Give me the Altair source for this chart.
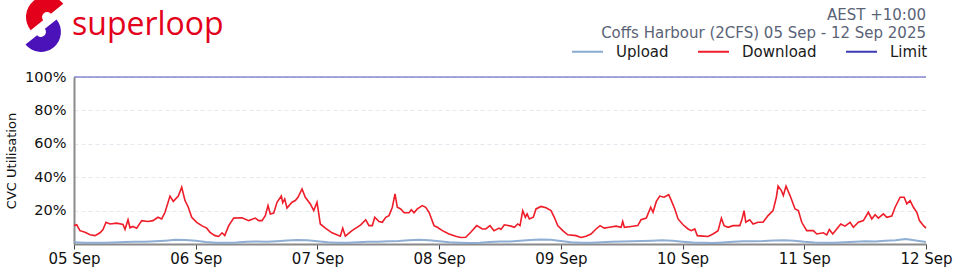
import altair as alt
import pandas as pd

# ---------------- data ----------------
day_labels = ["05 Sep", "06 Sep", "07 Sep", "08 Sep", "09 Sep", "10 Sep", "11 Sep", "12 Sep"]
day_ticks = [0, 24, 48, 72, 96, 120, 144, 168]          # hours since 05 Sep 00:00
y_ticks = [20, 40, 60, 80, 100]

series_names = ["Upload", "Download", "Limit"]
series_colors = ["#89aad2", "#ee1d29", "#3b3bb3"]

brand_name = "superloop"
tz_label = "AEST +10:00"
subtitle = "Coffs Harbour (2CFS) 05 Sep - 12 Sep 2025"
y_title = "CVC Utilisation"

download_hours = [
    0, 0.53, 1.18, 2.17, 3.16, 4.14, 5.13, 5.72, 6.31, 7.10, 8.42, 9.66, 10.06, 10.65, 11.04,
    11.63, 12.36, 13.35, 14.59, 15.58, 16.56, 17.29, 17.95, 18.93, 19.58, 20.57, 21.24, 21.89,
    22.54, 23.21, 24.20, 25.18, 26.17, 26.82, 27.80, 28.53, 29.19, 29.72, 30.51, 31.49, 33.13,
    34.45, 35.75, 36.42, 37.07, 37.72, 38.26, 38.71, 39.38, 40.03, 40.88, 41.16, 41.55, 42.00,
    42.99, 43.64, 44.17, 44.96, 45.61, 46.60, 47.27, 47.92, 48.57, 49.56, 50.88, 52.51, 52.99,
    53.50, 54.82, 55.81, 56.54, 57.52, 58.17, 58.82, 59.30, 60.15, 60.80, 61.47, 62.12, 62.77,
    63.30, 63.75, 64.42, 65.08, 66.06, 66.52, 67.05, 67.70, 68.68, 69.35, 70.01, 70.99, 71.64,
    72.63, 73.95, 75.27, 76.26, 77.24, 78.23, 79.41, 80.52, 81.19, 82.03, 82.82, 83.81, 84.20,
    84.85, 86.18, 86.83, 87.50, 87.95, 88.48, 89.00, 89.33, 89.79, 90.57, 91.10, 92.09, 93.08,
    94.06, 94.71, 95.38, 96.37, 97.36, 98.99, 99.98, 100.97, 101.95, 102.94, 103.73, 104.57,
    105.56, 106.88, 107.87, 108.20, 108.52, 109.84, 111.16, 111.81, 112.85, 113.72, 114.18,
    114.83, 115.50, 116.35, 117.27, 117.79, 118.46, 119.11, 120.10, 121.08, 121.73, 122.40,
    122.91, 124.04, 125.02, 126.01, 127.00, 127.65, 128.18, 128.97, 129.96, 131.28, 131.73,
    132.13, 132.46, 133.25, 133.90, 134.88, 135.87, 136.86, 137.84, 138.49, 138.83, 139.48,
    139.87, 140.40, 141.19, 142.18, 142.83, 143.50, 144.48, 145.79, 146.46, 147.76, 148.43,
    148.94, 149.61, 150.40, 151.19, 152.04, 153.03, 153.68, 154.67, 155.65, 156.64, 157.31,
    157.96, 158.61, 159.60, 160.27, 161.25, 161.91, 162.90, 163.69, 164.22, 164.87, 165.52,
    166.19, 166.71, 167.50, 168,
]
download_values = [
    11, 11.5, 8, 7, 5.5, 5, 6.7, 8.7, 13, 12, 12.5, 11.7, 8.8, 14.5, 9.7,
    10.5, 9.5, 14, 13.5, 14, 16, 15, 19, 28.7, 25.5, 28.7, 34, 26,
    22, 16, 13, 11, 9.5, 7, 5, 4.5, 6.7, 5, 11, 15.5, 15.7,
    14, 15.5, 14, 14, 17, 23, 18, 18.5, 25, 28.7, 24.7, 27, 21.5,
    25, 26, 28, 33, 28, 24, 20, 25, 12, 9.5, 6.7, 4.7, 9.5,
    4.7, 8, 10, 11.5, 14.5, 11, 11, 16, 13.5, 13, 16, 17, 22,
    30, 22, 21, 18.7, 18.7, 20.5, 18.7, 21, 23, 22, 19, 11, 10,
    8, 6, 4.7, 3.9, 4, 7, 11, 9, 9, 11, 8, 9.5, 8.7,
    11.5, 10.7, 10, 12, 11, 20, 16, 18, 15, 16, 21, 22.5, 21.7,
    20, 16, 11, 8, 5.5, 5, 3.9, 4.7, 6, 9, 11, 9.5,
    10, 10.7, 10, 13.5, 10, 10.5, 11, 14.5, 15.5, 22, 19,
    25.5, 28.7, 28, 29.5, 26, 21, 15, 11.5, 9, 8, 9,
    5, 4.7, 4.5, 6, 8, 15.5, 11, 10, 11, 11, 15,
    20, 13, 14.5, 12, 13, 13, 17, 20, 28, 34.7, 32,
    29, 34.7, 29, 21, 20, 13, 8, 8, 6, 6.7, 5.5,
    8.7, 6, 9, 12, 10.7, 13, 10, 13, 14, 19, 15,
    17.5, 15.5, 18, 16, 16.7, 22, 28, 28, 24, 26, 22,
    19, 14, 11, 9.5,
]

upload_hours = list(range(0, 169, 2))
upload_values = [
    1.0, 0.8, 0.7, 0.7, 0.9, 1.2, 1.4, 1.3, 1.6, 2.0, 2.5, 2.4,
    1.9, 1.2, 0.8, 0.7, 0.9, 1.3, 1.5, 1.4, 1.7, 2.1, 2.4, 2.2,
    1.6, 1.0, 0.7, 0.7, 1.0, 1.3, 1.4, 1.6, 1.8, 2.2, 2.6, 2.3,
    1.7, 1.1, 0.8, 0.6, 0.8, 1.2, 1.5, 1.5, 1.9, 2.4, 2.7, 2.5,
    1.8, 1.1, 0.8, 0.7, 1.0, 1.3, 1.5, 1.6, 1.8, 2.0, 2.3, 2.0,
    1.4, 0.9, 0.7, 0.6, 0.9, 1.3, 1.6, 1.7, 1.8, 2.1, 2.2, 2.0,
    1.3, 0.9, 0.8, 0.7, 1.0, 1.4, 1.6, 1.5, 1.9, 2.2, 3.0, 2.1,
    1.2,
]

limit_hours = [0, 168]
limit_values = [100, 100]

# ---------------- tables ----------------
df_up = pd.DataFrame({"hours": upload_hours, "value": upload_values, "series": "Upload"})
df_down = pd.DataFrame({"hours": download_hours, "value": download_values, "series": "Download"})
df_lim = pd.DataFrame({"hours": limit_hours, "value": limit_values, "series": "Limit"})

FONT = "DejaVu Sans"
W, H = 852, 167

label_js = "[" + ",".join("'%s'" % s for s in day_labels) + "]"

x_enc = alt.X(
    "hours:Q",
    scale=alt.Scale(domain=[0, 168], nice=False, zero=False),
    axis=alt.Axis(
        values=day_ticks,
        labelExpr=label_js + "[round(datum.value / 24)]",
        title=None,
        grid=False,
        ticks=True,
        tickSize=5,
        tickColor="#444444",
        tickWidth=1,
        domainColor="#8a8a8a",
        domainWidth=2,
        labelFontSize=15,
        labelFont=FONT,
        labelColor="#111111",
        labelPadding=2,
        labelFlush=False,
        labelOverlap=False,
    ),
)
y_enc = alt.Y(
    "value:Q",
    scale=alt.Scale(domain=[0, 100], nice=False),
    axis=alt.Axis(
        values=y_ticks,
        labelExpr="datum.value + '%'",
        title=y_title,
        titleFont=FONT,
        titleFontSize=13,
        titleFontWeight="normal",
        titleColor="#111111",
        titlePadding=6,
        grid=True,
        gridColor="#e4e8ef",
        gridDash=[4, 3],
        gridWidth=1,
        ticks=False,
        domainColor="#8a8a8a",
        domainWidth=2,
        labelFontSize=14.5,
        labelFont=FONT,
        labelColor="#111111",
        labelPadding=8,
    ),
)
color_enc = alt.Color(
    "series:N",
    scale=alt.Scale(domain=series_names, range=series_colors),
    legend=alt.Legend(
        title=None,
        orient="none",
        legendX=497,
        legendY=-42,
        direction="horizontal",
        symbolType="stroke",
        symbolSize=961,
        symbolStrokeWidth=2,
        symbolOpacity=1,
        labelFontSize=15,
        labelFont=FONT,
        labelColor="#1a1a1a",
        labelOffset=12,
        columnPadding=25,
        padding=0,
    ),
)

up_layer = alt.Chart(df_up).mark_line(strokeWidth=2, opacity=0.95).encode(x=x_enc, y=y_enc, color=color_enc)
down_layer = alt.Chart(df_down).mark_line(strokeWidth=1.6).encode(x=x_enc, y=y_enc, color=color_enc)
lim_layer = alt.Chart(df_lim).mark_line(strokeWidth=1.5, opacity=0.6).encode(x=x_enc, y=y_enc, color=color_enc)

# ---------------- header ----------------
tz_text = alt.Chart(pd.DataFrame({"t": [tz_label]})).mark_text(
    align="right", baseline="middle", fontSize=15, font=FONT, color="#5a6376"
).encode(x=alt.value(W), y=alt.value(-62), text="t:N")

sub_text = alt.Chart(pd.DataFrame({"t": [subtitle]})).mark_text(
    align="right", baseline="middle", fontSize=15, font=FONT, color="#5a6376"
).encode(x=alt.value(W), y=alt.value(-44), text="t:N")

brand_text = alt.Chart(pd.DataFrame({"t": [brand_name]})).mark_text(
    align="left", baseline="alphabetic", fontSize=32, font="Open Sans", color="#e3001b"
).encode(x=alt.value(-2), y=alt.value(-42), text="t:N")

logo_red = alt.Chart(pd.DataFrame({"k": [0]})).mark_arc(
    theta=4.03, theta2=7.17, radius=21, radius2=5, color="#e3001b"
).encode(x=alt.value(-27), y=alt.value(-60))

logo_purple = alt.Chart(pd.DataFrame({"k": [0]})).mark_arc(
    theta=0.89, theta2=4.03, radius=20, radius2=5, color="#4a12b8"
).encode(x=alt.value(-33), y=alt.value(-45))

chart = alt.layer(
    up_layer, down_layer, lim_layer, tz_text, sub_text, brand_text, logo_red, logo_purple
).properties(
    width=W,
    height=H,
    autosize=alt.AutoSizeParams(type="none"),
    padding={"left": 74, "top": 77, "right": 34, "bottom": 30},
    background="white",
).configure_view(stroke=None)

chart.save("out.html", embed_options={"renderer": "svg", "actions": False})
